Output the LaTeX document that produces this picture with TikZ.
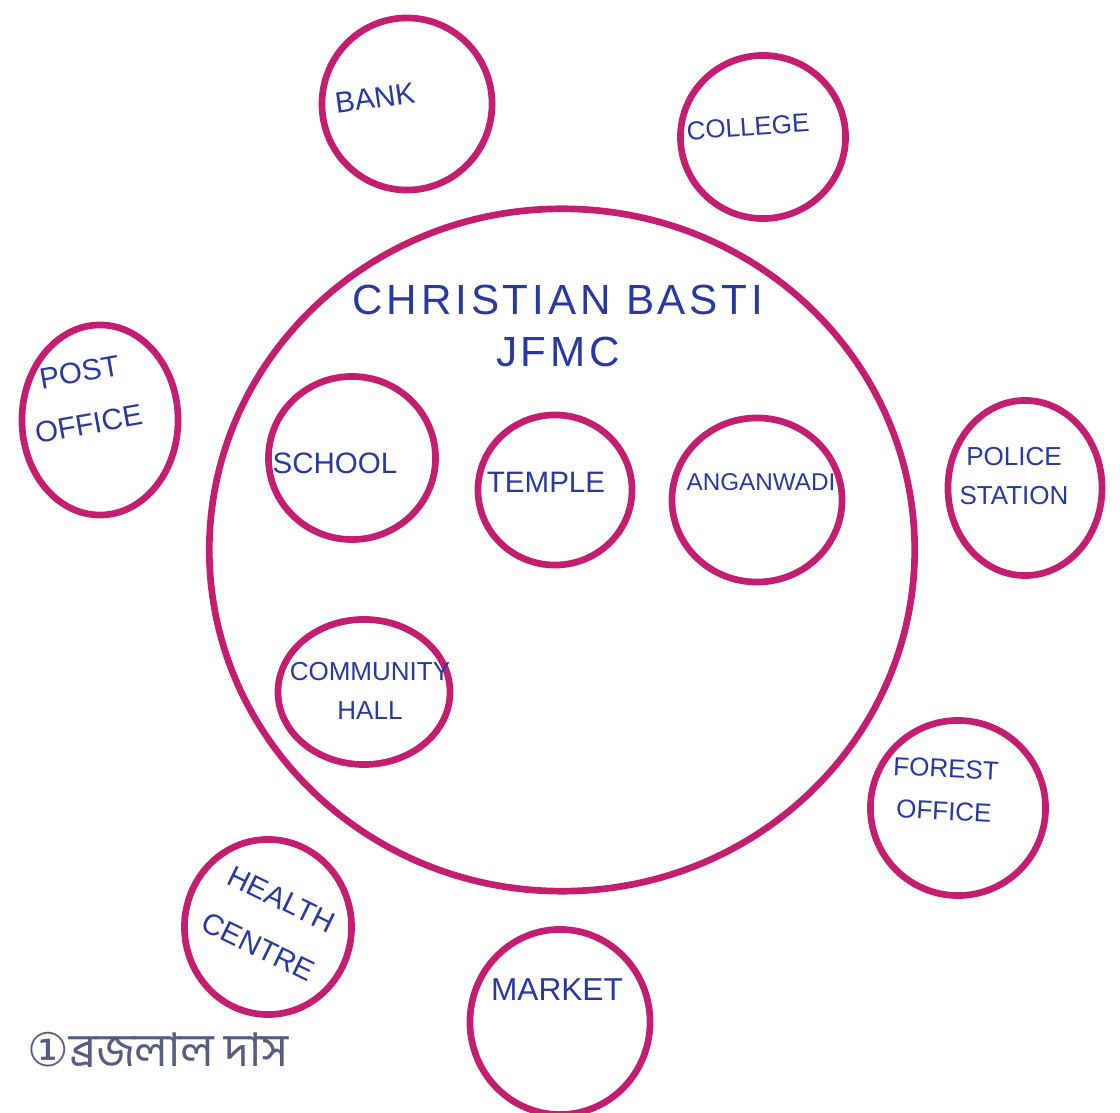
\documentclass[tikz,border=0pt]{standalone}
\usepackage{fontspec}
\setmainfont{Liberation Sans}
\newfontfamily\bengfont[Script=Bengali]{Hind Siliguri}
\newfontfamily\symfont{DejaVu Sans}
\newfontfamily\widefont[LetterSpace=9]{Liberation Sans}
\usepackage{tikz}
\usetikzlibrary{shapes.geometric, positioning}

\definecolor{ringpink}{RGB}{196,30,112}
\definecolor{inkblue}{RGB}{40,58,160}
\definecolor{pencil}{RGB}{88,92,130}

\begin{document}
\begin{tikzpicture}[
  x=0.01cm, y=-0.01cm,
  ring/.style={
    ellipse, draw=ringpink, line width=1.9pt,
    minimum width=1.65cm, minimum height=1.7cm
  },
  bigring/.style={
    ellipse, draw=ringpink, line width=1.9pt,
    minimum width=7.05cm, minimum height=6.82cm
  },
  lbl/.style={
    text=inkblue, align=center,
    font=\fontsize{8.4}{10}\selectfont,
    inner sep=0pt
  },
  smalllbl/.style={lbl, font=\fontsize{7.4}{9}\selectfont}
]
  \useasboundingbox (0,0) rectangle (1120,1113);

  % main settlement
  \node[bigring] (basti) at (562,550) {};
  \node[lbl, font=\widefont\large] (bastilbl) at (558,326) {CHRISTIAN BASTI\\[1pt]JFMC};

  % inside the basti
  \node[ring, minimum width=1.67cm, minimum height=1.63cm] (school) at (352,458) {};
  \node[ring, minimum width=1.54cm, minimum height=1.5cm] (temple) at (555,490) {};
  \node[ring, minimum width=1.7cm, minimum height=1.64cm] (anganwadi) at (757,500) {};
  \node[ring, minimum width=1.72cm, minimum height=1.45cm] (hall) at (364,692) {};

  \node[lbl] at (335,463) {SCHOOL};
  \node[lbl] at (546,482) {TEMPLE};
  \node[smalllbl, font=\fontsize{6.9}{9}\selectfont] at (761,482) {ANGANWADI};
  \node[smalllbl] at (370,691) {COMMUNITY\\[2pt]HALL};

  % outside the basti
  \node[ring, minimum width=1.7cm, minimum height=1.72cm] (bank) at (407,104) {};
  \node[ring, minimum width=1.65cm, minimum height=1.63cm] (college) at (763,137) {};
  \node[ring, minimum width=1.56cm, minimum height=1.9cm] (postoff) at (100,420) {};
  \node[ring, minimum width=1.54cm, minimum height=1.75cm] (police) at (1025,488) {};
  \node[ring, minimum width=1.75cm, minimum height=1.75cm] (forest) at (958,808) {};
  \node[ring, minimum width=1.67cm, minimum height=1.75cm] (health) at (268,927) {};
  \node[ring, minimum width=1.8cm, minimum height=1.85cm] (market) at (560,1022) {};

  \node[lbl, rotate=8] at (375,98) {BANK};
  \node[smalllbl, rotate=4] at (748,127) {COLLEGE};
  \node[lbl, rotate=10] at (84,398) {POST\\[5pt]OFFICE};
  \node[smalllbl] at (1014,476) {POLICE\\[2pt]STATION};
  \node[smalllbl, rotate=-3] at (945,790) {FOREST\\[3pt]OFFICE};
  \node[lbl, rotate=-26] at (270,923) {HEALTH\\[5pt]CENTRE};
  \node[lbl, font=\fontsize{9}{10}\selectfont] at (557,990) {MARKET};

  % signature
  \node[text=pencil, anchor=west, inner sep=0pt, font=\fontsize{13.2}{15}\selectfont] (sign) at (27,1050)
    {{\symfont ①}{\bengfont ব্রজলাল দাস}};
\end{tikzpicture}
\end{document}
